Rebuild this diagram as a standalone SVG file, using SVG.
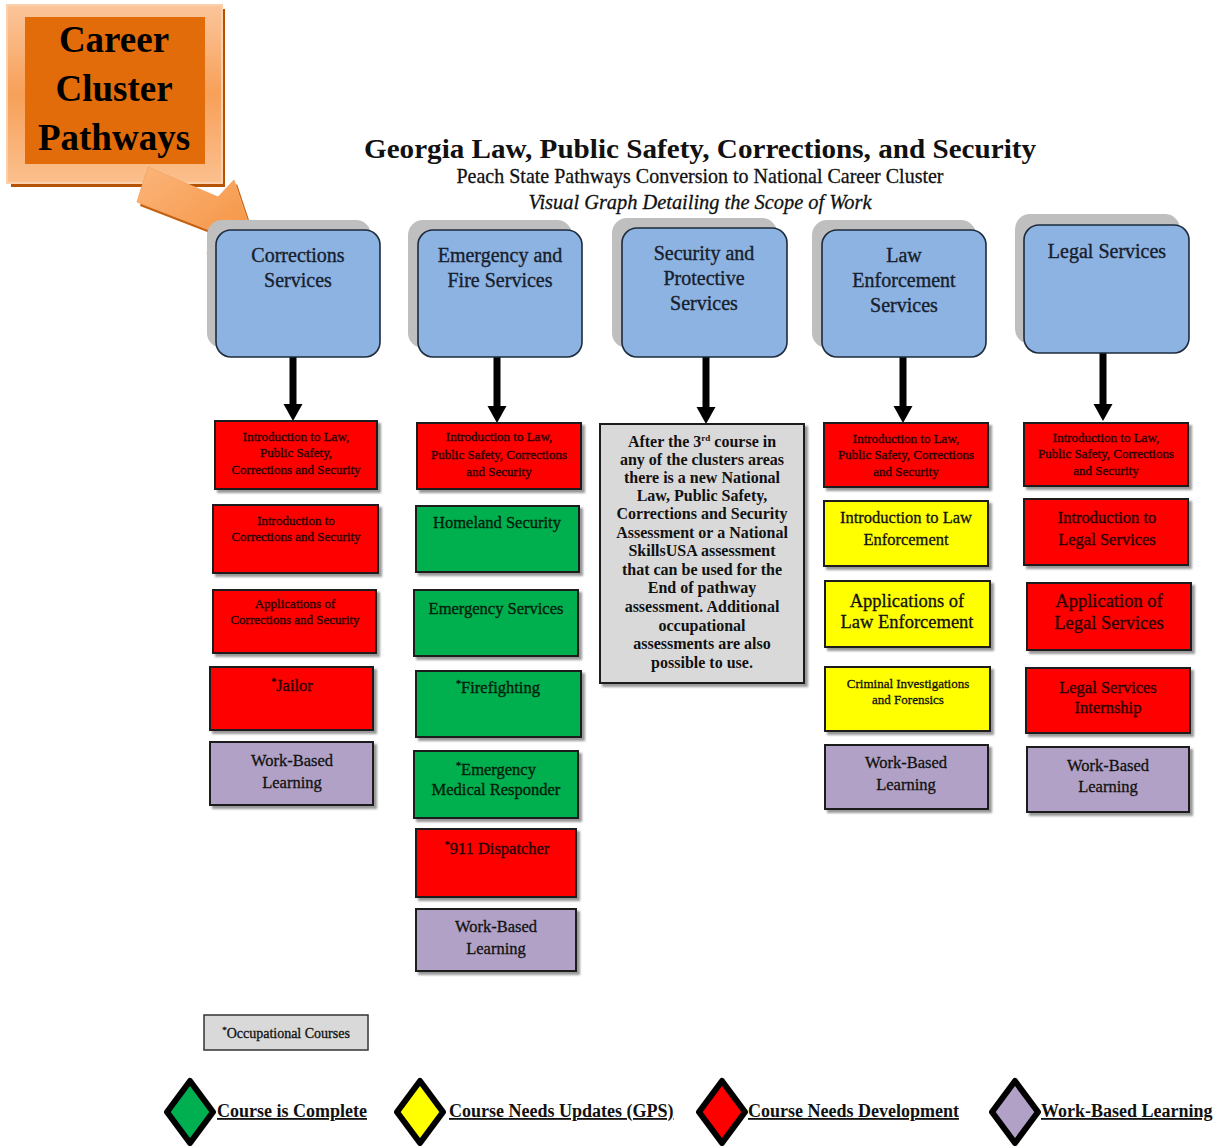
<svg xmlns="http://www.w3.org/2000/svg" width="1223" height="1146" viewBox="0 0 1223 1146">
<defs>
<style>
.t{font-family:"Liberation Serif","Times New Roman",serif;text-anchor:middle}
.hd{font-size:20px;fill:#17202c;stroke:#17202c;stroke-width:0.35}
.sm{font-size:13px}
.md{font-size:16.5px}
.lg{font-size:18.5px}
.rt{fill:#2a0000;stroke:#2a0000;stroke-width:0.35}
.gt{fill:#00200c;stroke:#00200c;stroke-width:0.35}
.kt{fill:#111;stroke:#111;stroke-width:0.3}
.hb{fill:#8db3e2;stroke:#1d2b3c;stroke-width:1.6}
.hs{fill:#bfbfbf}
.bx{stroke:#1a1a1a;stroke-width:2;filter:url(#ds)}
.red{fill:#ff0000}
.grn{fill:#00b050}
.yel{fill:#ffff00}
.pur{fill:#b2a1c7}
.gry{fill:#d9d9d9}
.cn{stroke:#000;stroke-width:7;fill:none}
.lgd{font-family:"Liberation Serif","Times New Roman",serif;font-weight:bold;font-size:18px;fill:#111;text-decoration:underline}
.dm{stroke:#000;stroke-width:6;stroke-linejoin:round}
</style>
<filter id="ds" x="-10%" y="-10%" width="130%" height="130%">
<feDropShadow dx="3" dy="3" stdDeviation="1" flood-color="#7f7f7f" flood-opacity="0.8"/>
</filter>
<marker id="ah" viewBox="0 -10 17 20" refX="0" refY="0" markerUnits="userSpaceOnUse" markerWidth="17" markerHeight="20" orient="auto">
<path d="M0,-9.5 L17,0 L0,9.5 z" fill="#000"/>
</marker>
<linearGradient id="og" x1="0" y1="0" x2="0" y2="1">
<stop offset="0" stop-color="#fbc59a"/>
<stop offset="0.5" stop-color="#f7a059"/>
<stop offset="1" stop-color="#fbc08e"/>
</linearGradient>
<linearGradient id="ag" x1="0" y1="0" x2="1" y2="1">
<stop offset="0" stop-color="#fbb57a"/>
<stop offset="1" stop-color="#f5913f"/>
</linearGradient>
</defs>
<rect width="1223" height="1146" fill="#fff"/>

<g id="badge">
<rect x="11" y="9" width="214" height="178" fill="#b55300"/>
<rect x="7" y="5" width="215" height="178" fill="url(#og)" stroke="#fad0ad" stroke-width="2"/>
<rect x="25" y="17" width="180" height="147" fill="#e36c0a"/>
<text class="t" x="114" y="52" font-weight="bold" font-size="37" fill="#000">Career</text>
<text class="t" x="114" y="101" font-weight="bold" font-size="37" fill="#000">Cluster</text>
<text class="t" x="114" y="150" font-weight="bold" font-size="37" fill="#000">Pathways</text>
<polygon points="151,171 221,201 237,184 253,232 210,258 215,235 140,206" fill="#c4600f"/>
<polygon points="148,167 218,197 234,180 250,228 207,254 212,231 137,202" fill="url(#ag)" stroke="#f6a868" stroke-width="1"/>
</g>

<g id="title">
<text class="t" x="700" y="158" font-weight="bold" font-size="27" fill="#111" textLength="672" lengthAdjust="spacingAndGlyphs">Georgia Law, Public Safety, Corrections, and Security</text>
<text class="t" x="700" y="183" font-size="21" fill="#111" stroke="#111" stroke-width="0.3" textLength="487" lengthAdjust="spacingAndGlyphs">Peach State Pathways Conversion to National Career Cluster</text>
<text class="t" x="700" y="209" font-style="italic" font-size="21" fill="#111" stroke="#111" stroke-width="0.3" textLength="343" lengthAdjust="spacingAndGlyphs">Visual Graph Detailing the Scope of Work</text>
</g>

<g id="connectors">
<line class="cn" x1="293" y1="357" x2="293" y2="404" marker-end="url(#ah)"/>
<line class="cn" x1="497" y1="357" x2="497" y2="406" marker-end="url(#ah)"/>
<line class="cn" x1="706" y1="357" x2="706" y2="407" marker-end="url(#ah)"/>
<line class="cn" x1="903" y1="357" x2="903" y2="406" marker-end="url(#ah)"/>
<line class="cn" x1="1103" y1="353" x2="1103" y2="404" marker-end="url(#ah)"/>
</g>

<g id="hdr-corrections">
<rect class="hs" x="207" y="220" width="164" height="128" rx="15"/>
<rect class="hb" x="216" y="230" width="164" height="127" rx="15"/>
<text class="t hd" x="298" y="262">Corrections</text>
<text class="t hd" x="298" y="287">Services</text>
</g>
<g id="hdr-emergency">
<rect class="hs" x="408" y="220" width="164" height="128" rx="15"/>
<rect class="hb" x="418" y="230" width="164" height="127" rx="15"/>
<text class="t hd" x="500" y="262">Emergency and</text>
<text class="t hd" x="500" y="287">Fire Services</text>
</g>
<g id="hdr-security">
<rect class="hs" x="612" y="218" width="165" height="130" rx="15"/>
<rect class="hb" x="622" y="228" width="165" height="129" rx="15"/>
<text class="t hd" x="704" y="260">Security and</text>
<text class="t hd" x="704" y="285">Protective</text>
<text class="t hd" x="704" y="310">Services</text>
</g>
<g id="hdr-law">
<rect class="hs" x="812" y="220" width="164" height="128" rx="15"/>
<rect class="hb" x="822" y="230" width="164" height="127" rx="15"/>
<text class="t hd" x="904" y="262">Law</text>
<text class="t hd" x="904" y="287">Enforcement</text>
<text class="t hd" x="904" y="312">Services</text>
</g>
<g id="hdr-legal">
<rect class="hs" x="1015" y="214" width="165" height="130" rx="15"/>
<rect class="hb" x="1024" y="225" width="165" height="128" rx="15"/>
<text class="t hd" x="1107" y="258">Legal Services</text>
</g>

<g id="c1-intro-law">
<rect class="bx red" x="215" y="421" width="162" height="68"/>
<text class="t sm rt" x="296" y="441">Introduction to Law,</text>
<text class="t sm rt" x="296" y="457">Public Safety,</text>
<text class="t sm rt" x="296" y="474">Corrections and Security</text>
</g>
<g id="c1-intro-corr">
<rect class="bx red" x="213" y="505" width="165" height="68"/>
<text class="t sm rt" x="296" y="525">Introduction to</text>
<text class="t sm rt" x="296" y="541">Corrections and Security</text>
</g>
<g id="c1-app-corr">
<rect class="bx red" x="213" y="590" width="163" height="63"/>
<text class="t sm rt" x="295" y="608">Applications of</text>
<text class="t sm rt" x="295" y="624">Corrections and Security</text>
</g>
<g id="c1-jailor">
<rect class="bx red" x="210" y="667" width="163" height="63"/>
<text class="t md rt" x="292" y="691"><tspan font-size="10" dy="-6">*</tspan><tspan dy="6">Jailor</tspan></text>
</g>
<g id="c1-wbl">
<rect class="bx pur" x="210" y="742" width="163" height="63"/>
<text class="t md kt" x="292" y="766">Work-Based</text>
<text class="t md kt" x="292" y="788">Learning</text>
</g>

<g id="c2-intro-law">
<rect class="bx red" x="417" y="423" width="164" height="66"/>
<text class="t sm rt" x="499" y="441">Introduction to Law,</text>
<text class="t sm rt" x="499" y="459">Public Safety, Corrections</text>
<text class="t sm rt" x="499" y="476">and Security</text>
</g>
<g id="c2-homeland">
<rect class="bx grn" x="416" y="506" width="163" height="66"/>
<text class="t md gt" x="497" y="528">Homeland Security</text>
</g>
<g id="c2-emergency">
<rect class="bx grn" x="414" y="590" width="164" height="66"/>
<text class="t md gt" x="496" y="614">Emergency Services</text>
</g>
<g id="c2-fire">
<rect class="bx grn" x="416" y="671" width="165" height="66"/>
<text class="t md gt" x="498" y="693"><tspan font-size="10" dy="-6">*</tspan><tspan dy="6">Firefighting</tspan></text>
</g>
<g id="c2-emr">
<rect class="bx grn" x="414" y="751" width="164" height="67"/>
<text class="t md gt" x="496" y="775"><tspan font-size="10" dy="-6">*</tspan><tspan dy="6">Emergency</tspan></text>
<text class="t md gt" x="496" y="795">Medical Responder</text>
</g>
<g id="c2-911">
<rect class="bx red" x="416" y="829" width="160" height="68"/>
<text class="t md rt" x="497" y="854"><tspan font-size="10" dy="-6">*</tspan><tspan dy="6">911 Dispatcher</tspan></text>
</g>
<g id="c2-wbl">
<rect class="bx pur" x="416" y="909" width="160" height="62"/>
<text class="t md kt" x="496" y="932">Work-Based</text>
<text class="t md kt" x="496" y="954">Learning</text>
</g>

<g id="c3-note">
<rect class="bx gry" x="600" y="424" width="204" height="259"/>
<g class="t" fill="#111" font-weight="bold" font-size="16px">
<text x="702" y="447">After the 3<tspan font-size="9" dy="-6">rd</tspan><tspan dy="6"> course in</tspan></text>
<text x="702" y="465">any of the clusters areas</text>
<text x="702" y="483">there is a new  National</text>
<text x="702" y="501">Law, Public Safety,</text>
<text x="702" y="519">Corrections and Security</text>
<text x="702" y="538">Assessment or a National</text>
<text x="702" y="556">SkillsUSA assessment</text>
<text x="702" y="575">that can be used for the</text>
<text x="702" y="593">End of pathway</text>
<text x="702" y="612">assessment.  Additional</text>
<text x="702" y="631">occupational</text>
<text x="702" y="649">assessments are also</text>
<text x="702" y="668">possible to use.</text>
</g>
</g>

<g id="c4-intro-law">
<rect class="bx red" x="824" y="423" width="164" height="64"/>
<text class="t sm rt" x="906" y="443">Introduction to Law,</text>
<text class="t sm rt" x="906" y="459">Public Safety, Corrections</text>
<text class="t sm rt" x="906" y="476">and Security</text>
</g>
<g id="c4-intro-le">
<rect class="bx yel" x="824" y="501" width="164" height="65"/>
<text class="t md kt" x="906" y="523">Introduction to Law</text>
<text class="t md kt" x="906" y="545">Enforcement</text>
</g>
<g id="c4-app-le">
<rect class="bx yel" x="825" y="581" width="165" height="66"/>
<text class="t lg kt" x="907" y="607">Applications of</text>
<text class="t lg kt" x="907" y="628">Law Enforcement</text>
</g>
<g id="c4-crim">
<rect class="bx yel" x="825" y="667" width="165" height="64"/>
<text class="t sm kt" x="908" y="688">Criminal Investigations</text>
<text class="t sm kt" x="908" y="704">and Forensics</text>
</g>
<g id="c4-wbl">
<rect class="bx pur" x="825" y="745" width="163" height="64"/>
<text class="t md kt" x="906" y="768">Work-Based</text>
<text class="t md kt" x="906" y="790">Learning</text>
</g>

<g id="c5-intro-law">
<rect class="bx red" x="1024" y="423" width="164" height="63"/>
<text class="t sm rt" x="1106" y="442">Introduction to Law,</text>
<text class="t sm rt" x="1106" y="458">Public Safety, Corrections</text>
<text class="t sm rt" x="1106" y="475">and Security</text>
</g>
<g id="c5-intro-legal">
<rect class="bx red" x="1024" y="499" width="164" height="66"/>
<text class="t md rt" x="1107" y="523">Introduction to</text>
<text class="t md rt" x="1107" y="545">Legal Services</text>
</g>
<g id="c5-app-legal">
<rect class="bx red" x="1027" y="583" width="164" height="67"/>
<text class="t lg rt" x="1109" y="607">Application of</text>
<text class="t lg rt" x="1109" y="629">Legal Services</text>
</g>
<g id="c5-intern">
<rect class="bx red" x="1026" y="668" width="164" height="65"/>
<text class="t md rt" x="1108" y="693">Legal Services</text>
<text class="t md rt" x="1108" y="713">Internship</text>
</g>
<g id="c5-wbl">
<rect class="bx pur" x="1027" y="747" width="162" height="65"/>
<text class="t md kt" x="1108" y="771">Work-Based</text>
<text class="t md kt" x="1108" y="792">Learning</text>
</g>

<g id="legend">
<rect class="gry" x="204" y="1015" width="164" height="35" stroke="#333" stroke-width="1.5"/>
<text class="t kt" x="286" y="1038" font-size="14"><tspan font-size="9" dy="-5">*</tspan><tspan dy="5">Occupational Courses</tspan></text>
<polygon class="dm" points="190,1081 213,1112 190,1143 167,1112" fill="#00b050"/>
<text class="lgd" x="217" y="1117">Course is Complete</text>
<polygon class="dm" points="420,1081 443,1112 420,1143 397,1112" fill="#ffff00"/>
<text class="lgd" x="449" y="1117">Course Needs Updates (GPS)</text>
<polygon class="dm" points="722,1081 745,1112 722,1143 699,1112" fill="#ff0000"/>
<text class="lgd" x="748" y="1117">Course Needs Development</text>
<polygon class="dm" points="1015,1081 1038,1112 1015,1143 992,1112" fill="#b2a1c7"/>
<text class="lgd" x="1041" y="1117">Work-Based Learning</text>
</g>
</svg>
